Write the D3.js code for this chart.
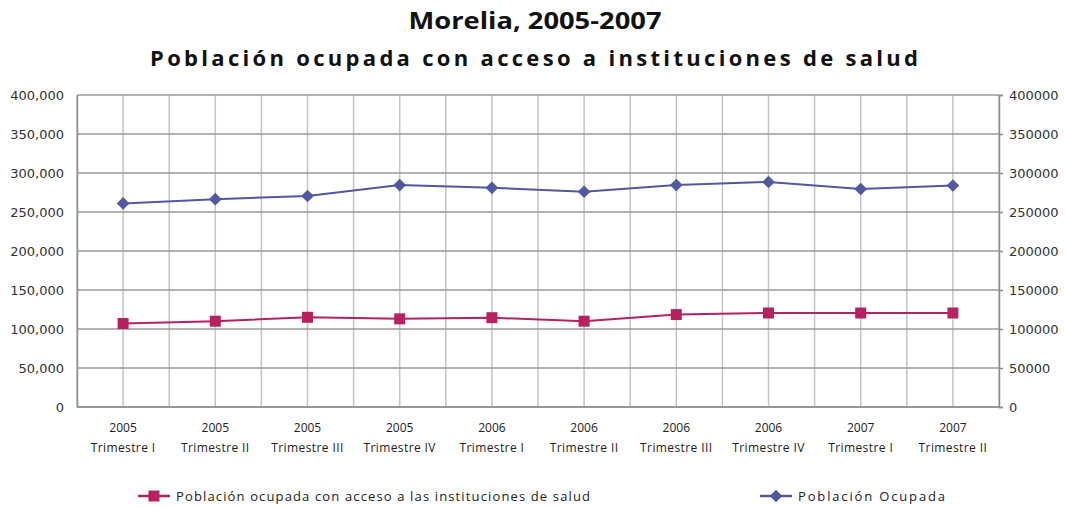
<!DOCTYPE html>
<html>
<head>
<meta charset="utf-8">
<script src="https://cdn.jsdelivr.net/npm/d3@7"></script>
<style>
  body { margin: 0; background: #fff; }
  svg { display: block; }
</style>
</head>
<body>
<svg width="1065" height="507"></svg>
<script>
// data
var years = ['2005', '2005', '2005', '2005', '2006', '2006', '2006', '2006', '2007', '2007'];
var quarters = ['Trimestre I', 'Trimestre II', 'Trimestre III', 'Trimestre IV', 'Trimestre I',
  'Trimestre II', 'Trimestre III', 'Trimestre IV', 'Trimestre I', 'Trimestre II'];
var ocupada = [261000, 266500, 270500, 284500, 281000, 276000, 284500, 288500, 279500, 284000];
var conAcceso = [107000, 110000, 115000, 113000, 114500, 110000, 118500, 120500, 120500, 120500];
var yTicks = [0, 50000, 100000, 150000, 200000, 250000, 300000, 350000, 400000];

var color = {
  acceso: '#B8215F',
  ocupada: '#5059A1',
  gridH: '#9a9a9a',
  gridV: '#c4c4c4',
  axis: '#8c8c8c',
  text: '#333'
};

var svg = d3.select('svg');
var m = { left: 77, right: 66, top: 95, bottom: 100 };
var W = 1065, H = 507;
var x0 = m.left, x1 = W - m.right, y0 = H - m.bottom, y1 = m.top;

var idx = d3.range(years.length);
var x = d3.scaleBand().domain(idx).range([x0, x1]).paddingInner(0).paddingOuter(0);
var y = d3.scaleLinear().domain([0, 400000]).range([y0, y1]);
var cx = function(i) { return x(i) + x.bandwidth() / 2; };

// vertical grid: band edges and centres
var g = svg.append('g');
var vLines = [];
idx.forEach(function(i) { vLines.push(x(i)); vLines.push(cx(i)); });
vLines.push(x1);
g.selectAll('line.v').data(vLines).enter().append('line')
  .attr('x1', function(d) { return d; }).attr('x2', function(d) { return d; })
  .attr('y1', y1).attr('y2', y0)
  .attr('stroke', color.gridV).attr('stroke-width', 1.5);

// horizontal grid
g.selectAll('line.h').data(yTicks).enter().append('line')
  .attr('x1', x0).attr('x2', x1)
  .attr('y1', function(d) { return y(d); }).attr('y2', function(d) { return y(d); })
  .attr('stroke', color.gridH).attr('stroke-width', 1.5);

// axes
var left = svg.append('g').attr('transform', 'translate(' + x0 + ',0)')
  .call(d3.axisLeft(y).tickValues(yTicks).tickSize(0).tickPadding(13).tickFormat(d3.format(',')));
var right = svg.append('g').attr('transform', 'translate(' + x1 + ',0)')
  .call(d3.axisRight(y).tickValues(yTicks).tickSize(4).tickPadding(6).tickFormat(d3.format('d')));
[left, right].forEach(function(a) {
  a.select('.domain').attr('stroke', color.axis).attr('stroke-width', 1.5);
  a.selectAll('.tick line').attr('stroke', color.axis).attr('stroke-width', 1.5);
  a.selectAll('text').attr('fill', color.text).style('font-family', 'DejaVu Sans')
    .style('font-size', '13px');
});
svg.append('line').attr('x1', x0).attr('x2', x1).attr('y1', y0).attr('y2', y0)
  .attr('stroke', color.axis).attr('stroke-width', 1.5);

// category labels
var xl = svg.append('g').style('font-family', 'Open Sans').style('font-size', '12px')
  .attr('fill', '#222').attr('text-anchor', 'middle');
xl.selectAll('text.yr').data(idx).enter().append('text')
  .attr('x', cx).attr('y', y0 + 25).text(function(i) { return years[i]; });
xl.selectAll('text.q').data(idx).enter().append('text')
  .attr('x', cx).attr('y', y0 + 45).style('letter-spacing', '0.4px')
  .text(function(i) { return quarters[i]; });

// lines
var line = function(vals) {
  return d3.line().x(function(d, i) { return cx(i); }).y(function(d) { return y(d); })(vals);
};
svg.append('path').attr('d', line(conAcceso)).attr('fill', 'none')
  .attr('stroke', color.acceso).attr('stroke-width', 2);
svg.append('path').attr('d', line(ocupada)).attr('fill', 'none')
  .attr('stroke', color.ocupada).attr('stroke-width', 2);

// markers: square, and a square turned 45deg for the diamond
var sq = d3.symbol().type(d3.symbolSquare).size(121);
var dm = d3.symbol().type(d3.symbolSquare).size(80);
svg.selectAll('path.sq').data(conAcceso).enter().append('path')
  .attr('d', sq).attr('fill', color.acceso)
  .attr('transform', function(d, i) { return 'translate(' + cx(i) + ',' + y(d) + ')'; });
svg.selectAll('path.dm').data(ocupada).enter().append('path')
  .attr('d', dm).attr('fill', color.ocupada)
  .attr('transform', function(d, i) { return 'translate(' + cx(i) + ',' + y(d) + ') rotate(45)'; });

// titles
var titleFont = '"Open Sans", sans-serif';
svg.append('text').attr('x', 535).attr('y', 29).attr('text-anchor', 'middle')
  .style('font-family', titleFont).style('font-weight', 'bold').style('font-size', '24px')
  .attr('fill', '#111').attr('textLength', 253).attr('lengthAdjust', 'spacingAndGlyphs')
  .text('Morelia, 2005-2007');
svg.append('text').attr('x', 534).attr('y', 66).attr('text-anchor', 'middle')
  .style('font-family', titleFont).style('font-weight', 'bold').style('font-size', '22px')
  .attr('fill', '#111').attr('textLength', 768).attr('lengthAdjust', 'spacing')
  .text('Población ocupada con acceso a instituciones de salud');

// legend
var lg = [
  { name: 'Población ocupada con acceso a las instituciones de salud', c: color.acceso, s: sq, r: 0, x: 138, w: 414 },
  { name: 'Población Ocupada', c: color.ocupada, s: dm, r: 45, x: 760, w: 147 }
];
var le = svg.selectAll('g.lg').data(lg).enter().append('g')
  .attr('transform', function(d) { return 'translate(' + d.x + ',496)'; });
le.append('line').attr('x1', 0).attr('x2', 32).attr('stroke', function(d) { return d.c; })
  .attr('stroke-width', 2.5);
le.append('path').attr('d', function(d) { return d.s(); }).attr('fill', function(d) { return d.c; })
  .attr('transform', function(d) { return 'translate(16,0) rotate(' + d.r + ')'; });
le.append('text').attr('x', 38).attr('y', 4.5)
  .style('font-family', titleFont).style('font-size', '13px').attr('fill', '#222')
  .attr('textLength', function(d) { return d.w; }).attr('lengthAdjust', 'spacing')
  .text(function(d) { return d.name; });
</script>
</body>
</html>
